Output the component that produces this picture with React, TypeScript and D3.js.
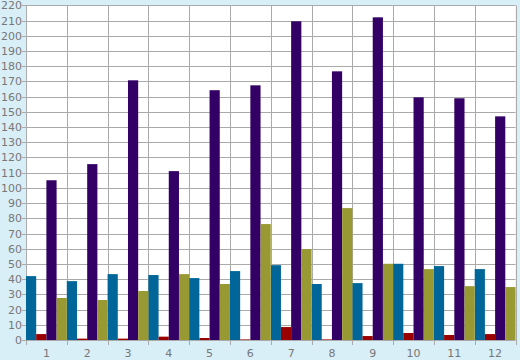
import React from "react";
import * as d3 from "d3";

const categories = ["1", "2", "3", "4", "5", "6", "7", "8", "9", "10", "11", "12"];
const seriesNames = ["A", "B", "C", "D"];
const blueValues = [42, 38.7, 43.3, 42.7, 40.7, 45.3, 49.2, 36.8, 37.4, 50.1, 48.6, 46.6];
const redValues = [3.9, 0.9, 0.9, 2.2, 1.3, 0.4, 8.5, 0.4, 2.6, 4.6, 3.3, 3.9];
const purpleValues = [105, 115.6, 170.7, 111, 164.2, 167.4, 209.5, 176.6, 212.1, 159.5, 158.9, 147];
const oliveValues = [27.6, 26.3, 32.2, 43.3, 36.8, 76.2, 59.7, 86.7, 50.1, 46.6, 35.4, 34.8];
const seriesColors = ["#006699", "#990000", "#330066", "#999933"];
const yTicks = d3.range(0, 221, 10);

const W = 520, H = 360;
const M = { left: 26, right: 4.5, top: 5.3, bottom: 20 };

export default function App() {
  const series = [blueValues, redValues, purpleValues, oliveValues];
  const x = d3.scaleBand<string>().domain(categories).range([M.left, W - M.right]).padding(0);
  const xInner = d3.scaleBand<string>().domain(seriesNames).range([0, x.bandwidth()]).padding(0);
  const y = d3.scaleLinear().domain([0, 220]).range([H - M.bottom, M.top]);
  const font = "DejaVu Sans, Verdana, sans-serif";
  const bounds = categories.map((c) => x(c)!).concat([W - M.right]);
  return (
    <svg width={W} height={H} style={{ position: "absolute", left: 0, top: 0, display: "block" }}>
      <rect x={0} y={0} width={W} height={H} fill="#d9eff7" />
      <rect x={M.left} y={y(220)} width={W - M.right - M.left} height={y(0) - y(220)} fill="#ffffff" />
      {yTicks.map((t) => (
        <g key={"y" + t}>
          <line x1={M.left - 4} x2={W - M.right} y1={Math.round(y(t)) + 0.5} y2={Math.round(y(t)) + 0.5} stroke="#aaaaaa" />
          <text x={M.left - 4} y={Math.round(y(t)) + 4} textAnchor="end" fontFamily={font} fontSize={11} fill="#777777">{t}</text>
        </g>
      ))}
      {bounds.map((b, i) => (
        <line key={"x" + i} x1={Math.round(b) + 0.5} x2={Math.round(b) + 0.5} y1={y(220)} y2={y(0) + 5} stroke="#aaaaaa" />
      ))}
      {series.map((vals, si) => (
        <g key={"s" + si} fill={seriesColors[si]}>
          {vals.map((v, ci) => (
            <rect key={ci} x={x(categories[ci])! + xInner(seriesNames[si])!} width={xInner.bandwidth()} y={y(v)} height={y(0) - y(v)} />
          ))}
        </g>
      ))}
      {categories.map((c) => (
        <text key={"l" + c} x={x(c)! + x.bandwidth() / 2} y={H - 3} textAnchor="middle" fontFamily={font} fontSize={11} fill="#777777">{c}</text>
      ))}
    </svg>
  );
}
